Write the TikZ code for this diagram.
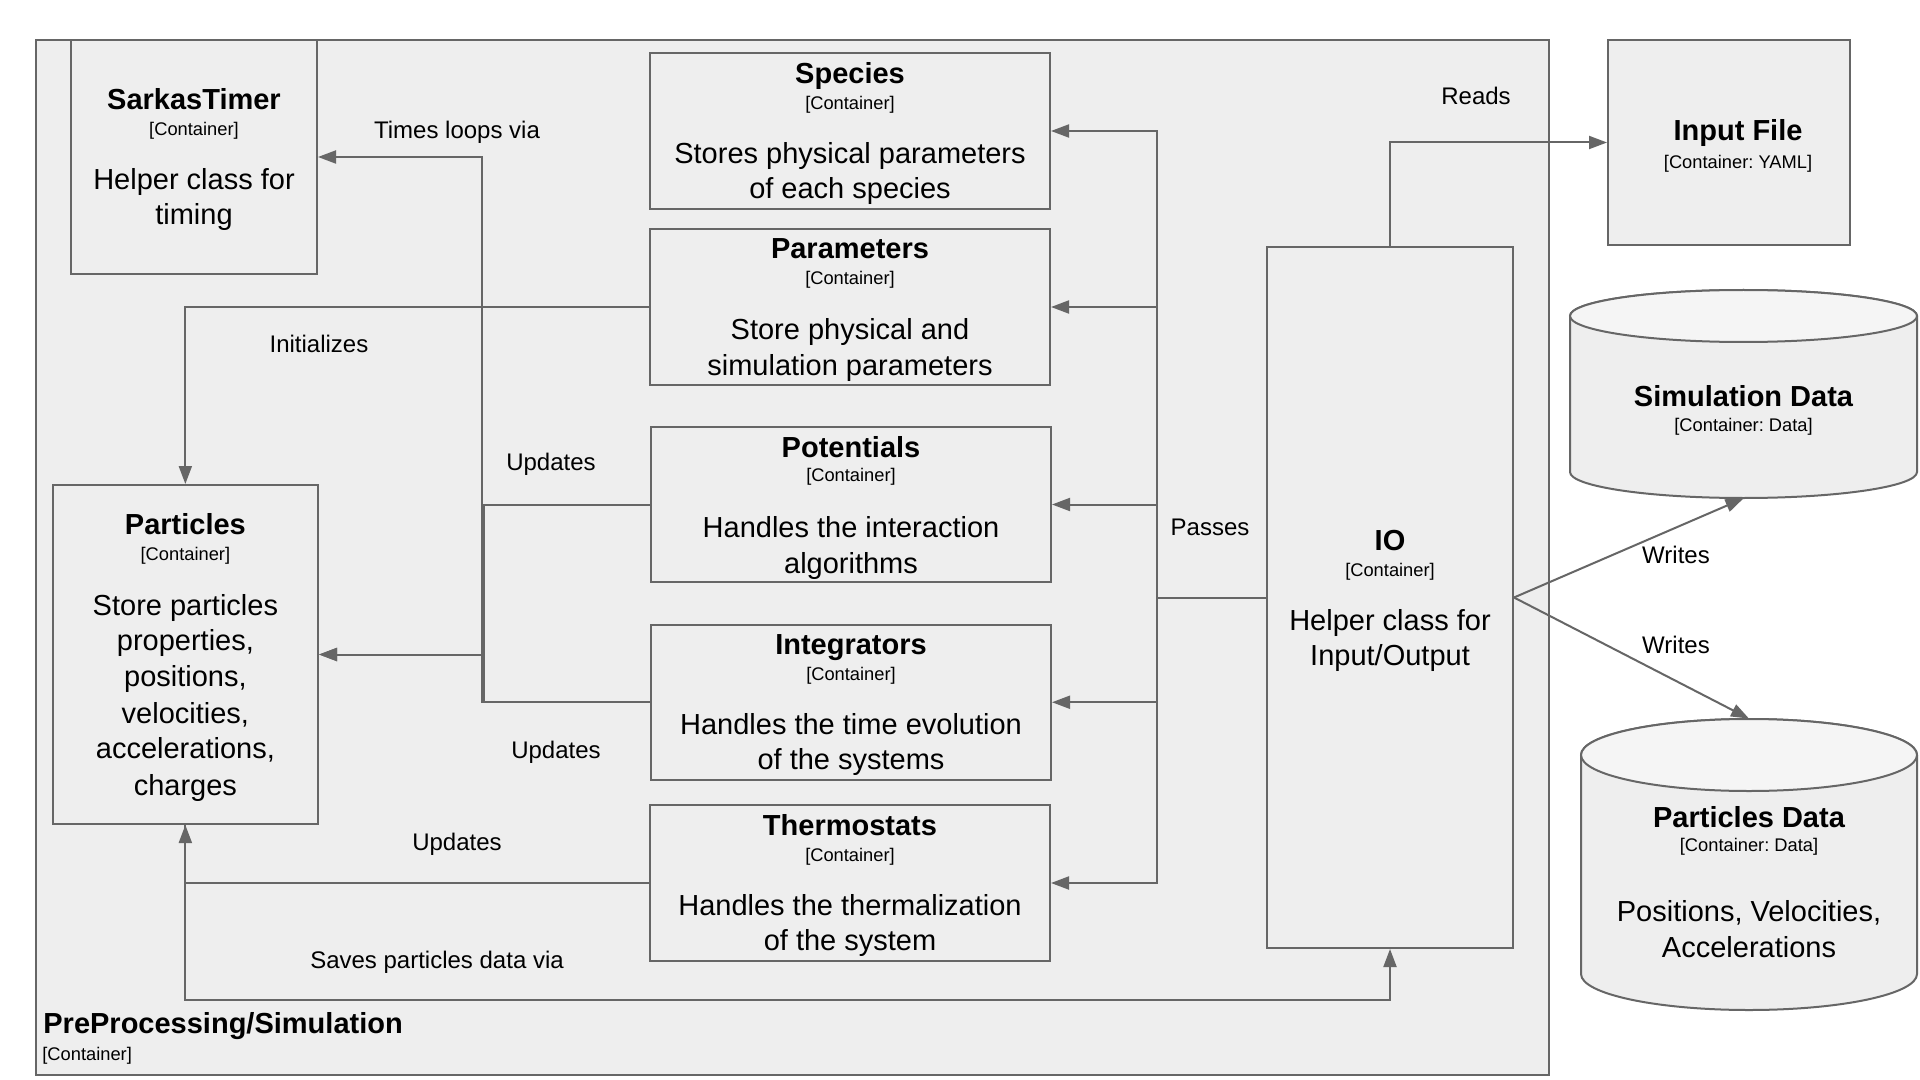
\documentclass[tikz,border=0pt]{standalone}
\usepackage{fontspec}
\setmainfont{Liberation Sans}
\usetikzlibrary{arrows.meta}
\definecolor{boxfill}{HTML}{EEEEEE}
\definecolor{cyltop}{HTML}{F5F5F5}
\definecolor{edgec}{HTML}{666666}
\frenchspacing
\begin{document}
\begin{tikzpicture}[x=0.5pt,y=-0.5pt,
  box/.style={draw=edgec, fill=boxfill, line width=1pt, inner sep=0pt, rectangle},
  ttl/.style={anchor=base, inner sep=0pt, font=\fontsize{14.5}{17}\selectfont\bfseries},
  sub/.style={anchor=base, inner sep=0pt, font=\fontsize{9.15}{11}\selectfont},
  body/.style={anchor=base, inner sep=0pt, font=\fontsize{14.5}{17}\selectfont},
  lbl/.style={anchor=base, inner sep=0pt, font=\fontsize{12}{14}\selectfont},
  arr/.style={draw=edgec, line width=1pt, -{Triangle[length=9pt,width=6.5pt]}},
  ln/.style={draw=edgec, line width=1pt},
  cyl/.style={draw=edgec, fill=boxfill, line width=1pt},
  cyltopst/.style={draw=edgec, fill=cyltop, line width=1pt}
]
\useasboundingbox (0,0) rectangle (1920,1080);
\fill[white] (0,0) rectangle (1920,1080);

% outer container
\node[box, minimum width=756.5pt, minimum height=517.5pt] (main) at (792.5,557.5) {};

% boxes
\node[box, minimum width=123pt, minimum height=117pt] (timer) at (194,157) {};
\node[box, minimum width=200pt, minimum height=78pt] (species) at (850,131) {};
\node[box, minimum width=200pt, minimum height=78pt] (param) at (850,307) {};
\node[box, minimum width=200pt, minimum height=77.5pt] (pot) at (851,504.5) {};
\node[box, minimum width=200pt, minimum height=77.75pt] (integ) at (851,702.25) {};
\node[box, minimum width=200pt, minimum height=78pt] (thermo) at (850,883) {};
\node[box, minimum width=132.65pt, minimum height=169.5pt] (part) at (185.35,654.5) {};
\node[box, minimum width=123pt, minimum height=350.5pt] (io) at (1390,597.5) {};
\node[box, minimum width=121pt, minimum height=102.5pt] (input) at (1729,142.5) {};

% cylinders
\node[inner sep=0pt, minimum width=173.5pt, minimum height=104pt] (simdata) at (1743.5,394) {};
\path[cyl] (1570,316) -- (1570,472) arc[start angle=180, end angle=360, x radius=86.75pt, y radius=13pt]
  -- (1917,316) arc[start angle=0, end angle=180, x radius=86.75pt, y radius=13pt] -- cycle;
\path[cyltopst] (1743.5,316) ellipse[x radius=86.75pt, y radius=13pt];

\node[inner sep=0pt, minimum width=168pt, minimum height=145.5pt] (pdata) at (1749,864.5) {};
\path[cyl] (1581,755) -- (1581,974) arc[start angle=180, end angle=360, x radius=84pt, y radius=18pt]
  -- (1917,755) arc[start angle=0, end angle=180, x radius=84pt, y radius=18pt] -- cycle;
\path[cyltopst] (1749,755) ellipse[x radius=84pt, y radius=18pt];

% connectors
\draw[arr] (integ.west) -- ++(-168,0) |- (timer.east);
\draw[arr] (pot.west) -- ++(-166,0) |- (part.east);
\draw[arr] (integ.west) -- ++(-166,0) |- (part.east);
\draw[arr] (param.west) -| (part.north);
\draw[arr] (thermo.west) -| (part.south);
\draw[arr] (part.south) -- ++(0,175) -| (io.south);
\draw[arr] (io.west) -- ++(-109,0) |- (species.east);
\draw[arr] (io.west) -- ++(-109,0) |- (param.east);
\draw[arr] (io.west) -- ++(-109,0) |- (pot.east);
\draw[arr] (io.west) -- ++(-109,0) |- (integ.east);
\draw[arr] (io.west) -- ++(-109,0) |- (thermo.east);
\draw[arr] (io.north) |- (input.west);
\draw[arr] (io.east) -- (simdata.south);
\draw[arr] (io.east) -- (pdata.north);

% connector labels
\node[lbl] (l1) at (457,138.5) {Times loops via};
\node[lbl] (l2) at (319,352.5) {Initializes};
\node[lbl] (l3) at (551,470) {Updates};
\node[lbl] (l4) at (556,758) {Updates};
\node[lbl] (l5) at (457,850) {Updates};
\node[lbl] (l6) at (437,968) {Saves particles data via};
\node[lbl] (l7) at (1210,535) {Passes};
\node[lbl] (l8) at (1476,105) {Reads};
\node[lbl] (l9) at (1676,563) {Writes};
\node[lbl] (l10) at (1676,653) {Writes};

% container title
\node[ttl, anchor=base west] (mt) at (43,1033) {PreProcessing/Simulation};
\node[sub, anchor=base west] (ms) at (42,1060) {[Container]};

% SarkasTimer
\node[ttl] (t1) at (194,109.6) {SarkasTimer};
\node[sub] (t2) at (194,135.2) {[Container]};
\node[body] (t3) at (194,189.2) {Helper class for};
\node[body] (t4) at (194,224.7) {timing};

% Species
\node[ttl] (s1) at (850,83.9) {Species};
\node[sub] (s2) at (850,109.5) {[Container]};
\node[body] (s3) at (850,163.4) {Stores physical parameters};
\node[body] (s4) at (850,199) {of each species};

% Parameters
\node[ttl] (p1) at (850,259) {Parameters};
\node[sub] (p2) at (850,284.6) {[Container]};
\node[body] (p3) at (850,339.8) {Store physical and};
\node[body] (p4) at (850,375.3) {simulation parameters};

% Potentials
\node[ttl] (o1) at (851,457.4) {Potentials};
\node[sub] (o2) at (851,481.7) {[Container]};
\node[body] (o3) at (851,537) {Handles the interaction};
\node[body] (o4) at (851,573.7) {algorithms};

% Integrators
\node[ttl] (i1) at (851,654.5) {Integrators};
\node[sub] (i2) at (851,680) {[Container]};
\node[body] (i3) at (851,734) {Handles the time evolution};
\node[body] (i4) at (851,769.6) {of the systems};

% Thermostats
\node[ttl] (h1) at (850,835.7) {Thermostats};
\node[sub] (h2) at (850,861.3) {[Container]};
\node[body] (h3) at (850,915.3) {Handles the thermalization};
\node[body] (h4) at (850,950.8) {of the system};

% Particles
\node[ttl] (a1) at (185.4,534.5) {Particles};
\node[sub] (a2) at (185.4,560) {[Container]};
\node[body] (a3) at (185.4,615.3) {Store particles};
\node[body] (a4) at (185.4,650.8) {properties,};
\node[body] (a5) at (185.4,686.4) {positions,};
\node[body] (a6) at (185.4,723) {velocities,};
\node[body] (a7) at (185.4,758.6) {accelerations,};
\node[body] (a8) at (185.4,795.4) {charges};

% IO
\node[ttl] (io1) at (1390,550.4) {IO};
\node[sub] (io2) at (1390,576) {[Container]};
\node[body] (io3) at (1390,630) {Helper class for};
\node[body] (io4) at (1390,665.5) {Input/Output};

% Input File
\node[ttl] (f1) at (1738,140.2) {Input File};
\node[sub] (f2) at (1738,168.2) {[Container: YAML]};

% Simulation Data
\node[ttl] (d1) at (1743.5,406) {Simulation Data};
\node[sub] (d2) at (1743.5,431.6) {[Container: Data]};

% Particles Data
\node[ttl] (e1) at (1749,827) {Particles Data};
\node[sub] (e2) at (1749,851.5) {[Container: Data]};
\node[body] (e3) at (1749,921.5) {Positions, Velocities,};
\node[body] (e4) at (1749,957) {Accelerations};
\end{tikzpicture}
\end{document}
